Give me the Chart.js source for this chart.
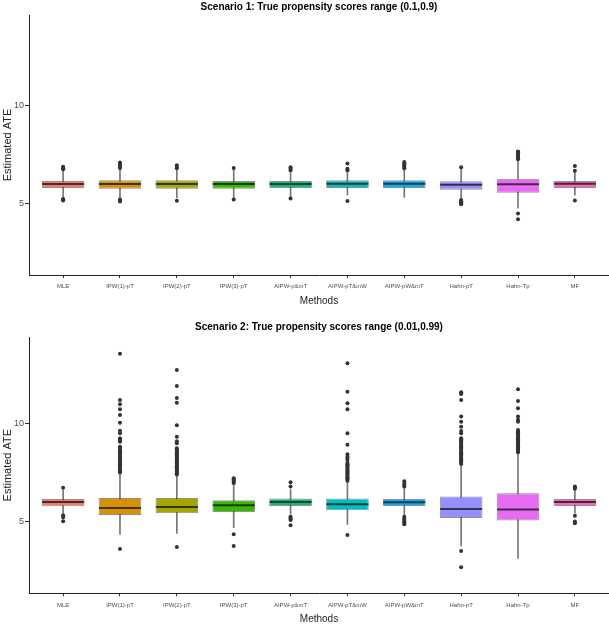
<!DOCTYPE html>
<html>
<head>
<meta charset="utf-8">
<script src="https://cdn.jsdelivr.net/npm/chart.js@4"></script>
<style>
  body { margin: 0; background: #fff; }
  canvas { display: block; }
</style>
</head>
<body>
<canvas id="chart1" width="609" height="310"></canvas>
<canvas id="chart2" width="609" height="329"></canvas>
<script>
// Kategorien (x-Achse)
const methods = ["MLE", "IPW(1)-pT", "IPW(2)-pT", "IPW(3)-pT", "AIPW-p&mT", "AIPW-pT&mW", "AIPW-pW&mT", "Hahn-pT", "Hahn-Tp", "MF"];
const yTicks = [5, 10];
const fills = ["#F8766D", "#D89000", "#A3A500", "#39B600", "#00BF7D", "#00BFC4", "#00B0F6", "#9590FF", "#E76BF3", "#FF62BC"];

// --- Szenario 1 ---
const s1Low    = [5.34, 5.30, 5.30, 5.28, 5.35, 5.44, 5.33, 5.28, 4.77, 5.44];
const s1Q1     = [5.80, 5.76, 5.76, 5.76, 5.80, 5.80, 5.80, 5.71, 5.56, 5.80];
const s1Median = [6.00, 6.00, 6.00, 6.00, 6.00, 6.01, 6.01, 5.96, 5.99, 6.01];
const s1Q3     = [6.15, 6.19, 6.19, 6.15, 6.15, 6.19, 6.19, 6.14, 6.27, 6.15];
const s1High   = [6.70, 6.75, 6.72, 6.78, 6.62, 6.65, 6.75, 6.80, 7.20, 6.62];
const s1Outliers = [
  [5.17, 5.22, 5.24, 6.75, 6.80, 6.88],
  [5.12, 5.17, 5.22, 6.82, 6.90, 6.98, 7.05, 7.10],
  [5.15, 6.80, 6.87, 6.95],
  [5.22, 6.82],
  [5.27, 6.70, 6.78, 6.86],
  [5.14, 6.70, 6.78, 7.05],
  [6.80, 6.87, 6.93, 7.00, 7.06, 7.12],
  [4.98, 5.03, 5.08, 5.13, 5.19, 6.85],
  [4.21, 4.51, 7.26, 7.32, 7.38, 7.44, 7.50, 7.56, 7.62, 7.66],
  [5.17, 6.68, 6.92]
];

// --- Szenario 2 ---
const s2Low    = [5.45, 4.37, 4.42, 4.71, 5.40, 4.88, 5.35, 3.78, 3.15, 5.45];
const s2Q1     = [5.80, 5.36, 5.44, 5.51, 5.81, 5.60, 5.81, 5.20, 5.07, 5.81];
const s2Median = [6.02, 5.71, 5.76, 5.85, 6.02, 5.90, 6.00, 5.66, 5.63, 6.02];
const s2Q3     = [6.17, 6.22, 6.22, 6.10, 6.19, 6.19, 6.17, 6.29, 6.46, 6.17];
const s2High   = [6.62, 7.48, 7.39, 6.95, 6.65, 7.05, 6.72, 7.90, 8.49, 6.62];
const s2Outliers = [
  [5.03, 5.24, 5.34, 6.74],
  [3.63, 7.52, 7.58, 7.64, 7.70, 7.76, 7.82, 7.88, 7.94, 8.00, 8.06, 8.12, 8.18, 8.24, 8.30, 8.36, 8.42,
   8.48, 8.54, 8.60, 8.66, 8.72, 8.78, 8.83, 9.08, 9.14, 9.20, 9.26, 9.51, 9.64, 10.05, 10.44, 10.73,
   10.99, 11.20, 13.56],
  [3.73, 7.42, 7.48, 7.54, 7.60, 7.66, 7.72, 7.78, 7.84, 7.90, 7.96, 8.02, 8.08, 8.14, 8.20, 8.26, 8.32,
   8.38, 8.44, 8.50, 8.56, 8.62, 8.68, 8.75, 9.00, 9.10, 9.34, 9.92, 11.07, 11.31, 11.92, 12.73],
  [3.78, 4.37, 6.98, 7.03, 7.08, 7.13, 7.18, 7.22],
  [4.83, 5.10, 5.16, 5.22, 5.27, 6.80, 7.02],
  [4.34, 7.10, 7.16, 7.22, 7.28, 7.34, 7.40, 7.46, 7.52, 7.58, 7.64, 7.70, 7.76, 7.82, 7.88, 7.94, 8.00,
   8.15, 8.25, 8.32, 8.45, 8.93, 9.51, 10.73, 11.04, 11.63, 13.07],
  [4.88, 4.95, 5.02, 5.10, 5.18, 5.27, 6.80, 6.88, 6.95, 7.07],
  [2.70, 3.52, 7.95, 8.01, 8.07, 8.13, 8.19, 8.25, 8.31, 8.37, 8.43, 8.49, 8.55, 8.61, 8.67, 8.73, 8.79,
   8.85, 8.91, 8.97, 9.03, 9.09, 9.15, 9.21, 9.26, 9.51, 9.63, 9.85, 10.10, 10.36, 11.20, 11.51, 11.55, 11.60],
  [8.55, 8.61, 8.67, 8.73, 8.79, 8.85, 8.91, 8.97, 9.03, 9.09, 9.15, 9.21, 9.27, 9.33, 9.39, 9.45, 9.51,
   9.57, 9.63, 9.68, 10.10, 10.20, 10.36, 10.78, 11.15, 11.75],
  [4.93, 5.02, 5.31, 6.69, 6.75, 6.80]
];

Chart.defaults.font.family = "'Liberation Sans', Arial, sans-serif";
Chart.defaults.color = "#4d4d4d";

// Ein Boxplot-Panel zeichnen
function renderBoxplot(canvasId, titleText, low, q1, median, q3, high, outliers, cfg) {
  const ctx = document.getElementById(canvasId);

  const outlierPoints = [];
  outliers.forEach((list, i) => {
    list.forEach(v => outlierPoints.push({ x: i + 1, y: v }));
  });

  return new Chart(ctx, {
    type: 'bar',
    data: {
      datasets: [
        {
          // Whisker
          type: 'bar',
          data: methods.map((m, i) => ({ x: i + 1, y: [low[i], high[i]] })),
          backgroundColor: '#777',
          barThickness: 1,
          grouped: false,
          order: 3
        },
        {
          // Box (Q1 bis Q3)
          type: 'bar',
          data: methods.map((m, i) => ({ x: i + 1, y: [q1[i], q3[i]] })),
          backgroundColor: fills,
          borderColor: 'rgba(40,40,40,0.5)',
          borderWidth: 1,
          borderSkipped: false,
          categoryPercentage: 1,
          barPercentage: 0.75,
          grouped: false,
          order: 2
        },
        {
          // Median
          type: 'scatter',
          data: methods.map((m, i) => ({ x: i + 1, y: median[i] })),
          pointStyle: 'line',
          pointRadius: 21,
          borderColor: 'rgba(25,25,25,0.8)',
          borderWidth: 2,
          order: 1
        },
        {
          // Ausreisser
          type: 'scatter',
          data: outlierPoints,
          pointRadius: 2,
          backgroundColor: '#333',
          borderWidth: 0,
          order: 0
        }
      ]
    },
    options: {
      responsive: false,
      animation: false,
      events: [],
      layout: { padding: 0, autoPadding: false },
      plugins: {
        legend: { display: false },
        tooltip: { enabled: false },
        title: {
          display: true,
          text: titleText,
          fullSize: false,
          color: '#000',
          font: { size: 10, weight: 'bold', lineHeight: 1.2 },
          padding: { top: cfg.titleTop, bottom: cfg.titleBottom }
        }
      },
      scales: {
        x: {
          type: 'linear',
          min: 0.4,
          max: 10.6,
          offset: false,
          afterBuildTicks: (s) => { s.ticks = methods.map((m, i) => ({ value: i + 1 })); },
          afterFit: (s) => { s.height = cfg.xHeight; s.paddingLeft = 0; s.paddingRight = 0; },
          ticks: {
            autoSkip: false,
            maxRotation: 0,
            padding: 5,
            font: { size: 6 },
            color: '#4d4d4d',
            callback: (v) => methods[v - 1]
          },
          grid: { offset: false, drawOnChartArea: false, drawTicks: true, tickLength: 3, color: '#333' },
          border: { display: true, color: '#222', width: 1 },
          title: {
            display: true,
            text: 'Methods',
            color: '#222',
            font: { size: 10 },
            padding: { top: 0, bottom: cfg.xTitleBottom }
          }
        },
        y: {
          min: cfg.yMin,
          max: cfg.yMax,
          afterBuildTicks: (s) => { s.ticks = yTicks.map(v => ({ value: v })); },
          afterFit: (s) => { s.width = 29; },
          ticks: { padding: 1, font: { size: 9 }, color: '#4d4d4d' },
          grid: { drawOnChartArea: false, drawTicks: true, tickLength: 4, color: '#333' },
          border: { display: true, color: '#222', width: 1 },
          title: {
            display: true,
            text: 'Estimated ATE',
            color: '#222',
            font: { size: 11 },
            padding: { top: 1, bottom: 0 }
          }
        }
      }
    }
  });
}

renderBoxplot('chart1', 'Scenario 1: True propensity scores range (0.1,0.9)',
  s1Low, s1Q1, s1Median, s1Q3, s1High, s1Outliers,
  { titleTop: 1, titleBottom: 2, xHeight: 35, xTitleBottom: 2.5, yMin: 1.38, yMax: 14.59 });

renderBoxplot('chart2', 'Scenario 2: True propensity scores range (0.01,0.99)',
  s2Low, s2Q1, s2Median, s2Q3, s2High, s2Outliers,
  { titleTop: 11, titleBottom: 4, xHeight: 45.7, xTitleBottom: 14, yMin: 1.37, yMax: 14.41 });
</script>
</body>
</html>
